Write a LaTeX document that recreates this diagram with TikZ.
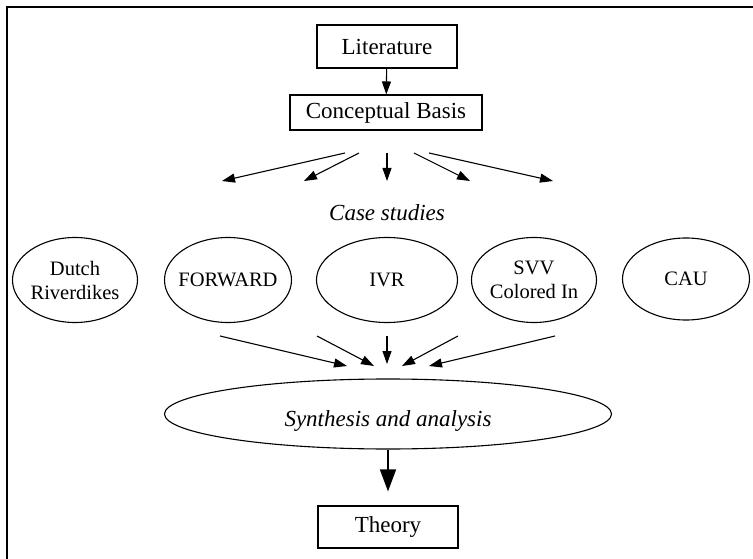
\documentclass[tikz,border=0pt]{standalone}
\usepackage{fontspec}
\setmainfont{Liberation Serif}
\usetikzlibrary{arrows.meta,shapes.geometric}

\tikzset{
  rbox/.style={draw, line width=1.1pt, rectangle, inner sep=0pt,
    font=\fontsize{23}{26}\selectfont},
  caseoval/.style={draw, line width=1.1pt, ellipse, inner ysep=0pt,
    inner xsep=-25pt, minimum width=125pt, minimum height=85pt, align=center,
    font=\fontsize{20.5}{24}\selectfont},
  flow/.style={line width=1.1pt, -{Triangle[length=13pt,width=9pt]}},
  bigflow/.style={line width=1.6pt, -{Triangle[length=22pt,width=16pt]}},
  frameline/.style={line width=2pt}
}

\begin{document}
\begin{tikzpicture}[x=1pt,y=-1pt]
  \useasboundingbox (0,0) rectangle (753,559);

  % frame: top and left rules
  \coordinate (fr-tl) at (7,7);
  \coordinate (fr-tr) at (753,7);
  \coordinate (fr-bl) at (7,559);
  \draw[frameline] (fr-tr) -- (fr-tl) -- (fr-bl);

  % top boxes
  \node[rbox, minimum width=140pt, minimum height=43pt] (lit) at (387,46.5) {Literature};
  \node[rbox, minimum width=192pt, minimum height=35pt] (basis) at (386,112.5) {Conceptual Basis};
  \draw[flow] (lit) -- (basis);

  % fan of arrows towards the case studies
  \coordinate (f1s) at (345,153); \coordinate (f1e) at (222,181);
  \coordinate (f2s) at (359,153); \coordinate (f2e) at (304,181);
  \coordinate (f3s) at (387,153); \coordinate (f3e) at (387,181);
  \coordinate (f4s) at (414,153); \coordinate (f4e) at (470,181);
  \coordinate (f5s) at (429,153); \coordinate (f5e) at (553,181);
  \foreach \i in {1,...,5} \draw[flow] (f\i s) -- (f\i e);

  \node[font=\itshape\fontsize{23}{26}\selectfont] (cases) at (387,213) {Case studies};

  % case study ovals
  \node[caseoval] (dutch) at (75,280) {Dutch\\Riverdikes};
  \node[caseoval, minimum width=127pt] (forward) at (228,280) {FORWARD};
  \node[caseoval, minimum width=141pt] (ivr) at (387,280) {IVR};
  \node[caseoval] (svv) at (534,280) {SVV\\Colored In};
  \node[caseoval, minimum width=127pt, minimum height=82pt] (cau) at (686,279) {CAU};

  % converging arrows towards the synthesis
  \coordinate (c1s) at (220,336); \coordinate (c1e) at (347,366);
  \coordinate (c2s) at (317,336); \coordinate (c2e) at (374,366);
  \coordinate (c3s) at (387,336); \coordinate (c3e) at (387,364);
  \coordinate (c4s) at (458,336); \coordinate (c4e) at (402,366);
  \coordinate (c5s) at (555,336); \coordinate (c5e) at (429,366);
  \foreach \i in {1,...,5} \draw[flow] (c\i s) -- (c\i e);

  \node[draw, line width=1.1pt, ellipse, inner sep=0pt,
        minimum width=447pt, minimum height=70pt,
        text height=28pt, text depth=4pt,
        font=\itshape\fontsize{23}{26}\selectfont] (synth) at (388,414)
        {Synthesis and analysis};

  \node[rbox, minimum width=140pt, minimum height=42pt] (theory) at (388,527) {Theory};
  \draw[bigflow] (synth.south) -- ([yshift=14pt]theory.north);
\end{tikzpicture}
\end{document}
